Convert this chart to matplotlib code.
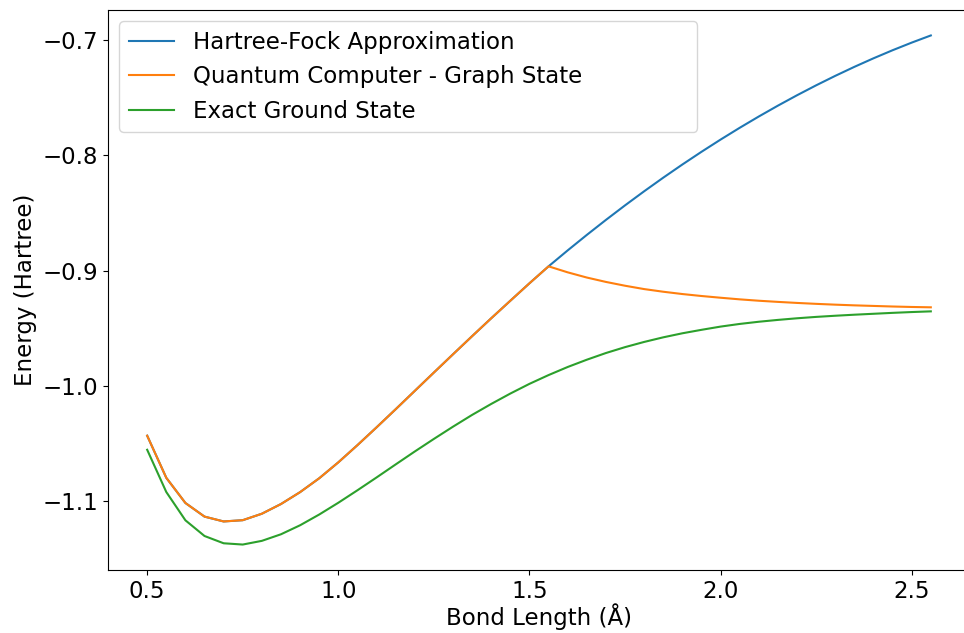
import matplotlib.pyplot as plt

bond_lengths = [0.50, 0.55, 0.60, 0.65, 0.70, 0.75, 0.80, 0.85, 0.90, 0.95,
                1.00, 1.05, 1.10, 1.15, 1.20, 1.25, 1.30, 1.35, 1.40, 1.45,
                1.50, 1.55, 1.60, 1.65, 1.70, 1.75, 1.80, 1.85, 1.90, 1.95,
                2.00, 2.05, 2.10, 2.15, 2.20, 2.25, 2.30, 2.35, 2.40, 2.45,
                2.50, 2.55]

hf_energy = [-1.0430, -1.0795, -1.1013, -1.1131, -1.1173, -1.1162, -1.1106, -1.1022, -1.0919, -1.0799,
             -1.0661, -1.0512, -1.0358, -1.0201, -1.0042, -0.9883, -0.9725, -0.9568, -0.9413, -0.9261,
             -0.9110, -0.8963, -0.8825, -0.8691, -0.8561, -0.8435, -0.8313, -0.8195, -0.8081, -0.7971,
             -0.7865, -0.7763, -0.7665, -0.7571, -0.7481, -0.7395, -0.7313, -0.7235, -0.7161, -0.7091,
             -0.7025, -0.6963]

qc_energy = [-1.0430, -1.0795, -1.1013, -1.1131, -1.1173, -1.1162, -1.1106, -1.1022, -1.0919, -1.0799,
             -1.0661, -1.0512, -1.0358, -1.0201, -1.0042, -0.9883, -0.9725, -0.9568, -0.9413, -0.9261,
             -0.9110, -0.8963, -0.9015, -0.9060, -0.9098, -0.9131, -0.9160, -0.9183, -0.9203, -0.9220,
             -0.9235, -0.9249, -0.9261, -0.9271, -0.9280, -0.9288, -0.9295, -0.9301, -0.9306, -0.9311,
             -0.9315, -0.9318]

exact_energy = [-1.0552, -1.0918, -1.1163, -1.1299, -1.1362, -1.1373, -1.1341, -1.1284, -1.1206, -1.1113,
                -1.1011, -1.0903, -1.0792, -1.0679, -1.0567, -1.0458, -1.0352, -1.0250, -1.0155, -1.0065,
                -0.9981, -0.9905, -0.9835, -0.9772, -0.9714, -0.9663, -0.9618, -0.9578, -0.9543, -0.9513,
                -0.9485, -0.9462, -0.9443, -0.9427, -0.9413, -0.9401, -0.9391, -0.9382, -0.9374, -0.9366,
                -0.9359, -0.9353]

plt.rcParams['font.size'] = 16.5

fig = plt.figure(figsize=(9.64, 6.33), dpi=100)
# the original picture is cropped: the right spine falls outside the canvas
ax = fig.add_axes([108 / 964, 63 / 633, 862 / 964, 560 / 633])
ax.spines['right'].set_visible(False)

ax.plot(bond_lengths, hf_energy, label='Hartree-Fock Approximation')
ax.plot(bond_lengths, qc_energy, label='Quantum Computer - Graph State')
ax.plot(bond_lengths, exact_energy, label='Exact Ground State')

ax.set_xlabel('Bond Length (Å)', labelpad=0.5)
ax.set_ylabel('Energy (Hartree)')
ax.legend(loc='upper left', bbox_to_anchor=(0, 0, 0.697, 1), mode='expand')

plt.savefig('out.png', dpi=100)
plt.close()
